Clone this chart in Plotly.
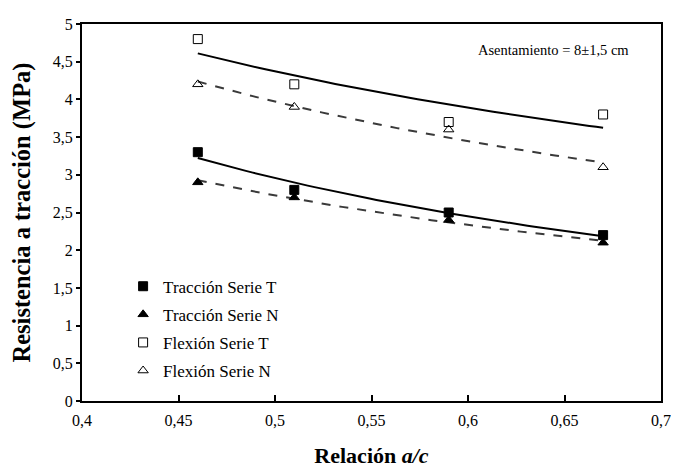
import numpy as np
import plotly.graph_objects as go

relacion = [0.46, 0.51, 0.59, 0.67]
traccion_T = [3.3, 2.8, 2.5, 2.2]
traccion_N = [2.9, 2.7, 2.4, 2.1]
flexion_T = [4.8, 4.2, 3.7, 3.8]
flexion_N = [4.2, 3.9, 3.6, 3.1]

x_ticks = [0.4, 0.45, 0.5, 0.55, 0.6, 0.65, 0.7]
x_ticktext = ["0,4", "0,45", "0,5", "0,55", "0,6", "0,65", "0,7"]
y_ticks = [0, 0.5, 1, 1.5, 2, 2.5, 3, 3.5, 4, 4.5, 5]
y_ticktext = ["0", "0,5", "1", "1,5", "2", "2,5", "3", "3,5", "4", "4,5", "5"]

FONT = "Liberation Serif"


def power_fit(x, y):
    x = np.asarray(x, float)
    y = np.asarray(y, float)
    b, ln_a = np.polyfit(np.log(x), np.log(y), 1)
    xs = np.linspace(x.min(), x.max(), 60)
    return xs, np.exp(ln_a) * xs ** b


fig = go.Figure()

# trend lines
for ys, dash, color in [
    (flexion_T, "solid", "black"),
    (traccion_T, "solid", "black"),
    (flexion_N, "dash", "#3a3a3a"),
    (traccion_N, "dash", "#3a3a3a"),
]:
    xs, yf = power_fit(relacion, ys)
    fig.add_trace(go.Scatter(x=xs, y=yf, mode="lines", showlegend=False,
                             hoverinfo="skip",
                             line=dict(color=color, width=2, dash=dash)))

series = [
    ("Tracción Serie T", traccion_T, "square", "black"),
    ("Tracción Serie N", traccion_N, "triangle-up", "black"),
    ("Flexión Serie T", flexion_T, "square-open", "black"),
    ("Flexión Serie N", flexion_N, "triangle-up-open", "black"),
]
for i, (name, ys, sym, col) in enumerate(series):
    fig.add_trace(go.Scatter(
        x=relacion, y=ys, mode="markers", name=name, legendgroup=f"g{i}",
        marker=dict(symbol=sym, size=9, color=col,
                    line=dict(color="black", width=1))))

fig.add_annotation(text="Asentamiento = 8±1,5 cm", xref="paper", yref="paper",
                   x=0.949, y=0.93, xanchor="right", yanchor="middle",
                   showarrow=False, font=dict(family=FONT, size=14.5, color="black"))

# page body has an 8px margin: figure is sized/offset to compensate
fig.update_layout(
    width=671, height=465,
    margin=dict(l=70, r=9, t=8, b=72),
    paper_bgcolor="white", plot_bgcolor="white",
    font=dict(family=FONT, color="black"),
    legend=dict(x=0.071, y=0.351, xanchor="left", yanchor="top",
                bgcolor="rgba(0,0,0,0)", font=dict(family=FONT, size=17),
                traceorder="grouped", tracegroupgap=3, itemwidth=30),
    xaxis=dict(range=[0.4, 0.7], tickvals=x_ticks, ticktext=x_ticktext,
               ticks="inside", ticklen=6, tickwidth=2, tickcolor="black",
               ticklabelstandoff=4,
               showgrid=False, zeroline=False,
               showline=True, linecolor="black", linewidth=2, mirror=True,
               tickfont=dict(family=FONT, size=16),
               title=dict(text="<b>Relación <i>a/c</i></b>",
                          font=dict(family=FONT, size=22), standoff=19)),
    yaxis=dict(range=[0, 5], tickvals=y_ticks, ticktext=y_ticktext,
               ticks="outside", ticklen=4, tickwidth=2, tickcolor="black",
               showgrid=False, zeroline=False,
               showline=True, linecolor="black", linewidth=2, mirror=True,
               tickfont=dict(family=FONT, size=16),
               title=dict(text="<b>Resistencia a tracción (MPa)</b>",
                          font=dict(family=FONT, size=24.5), standoff=20)),
)

fig.write_html("out.html", config={"displayModeBar": False})
